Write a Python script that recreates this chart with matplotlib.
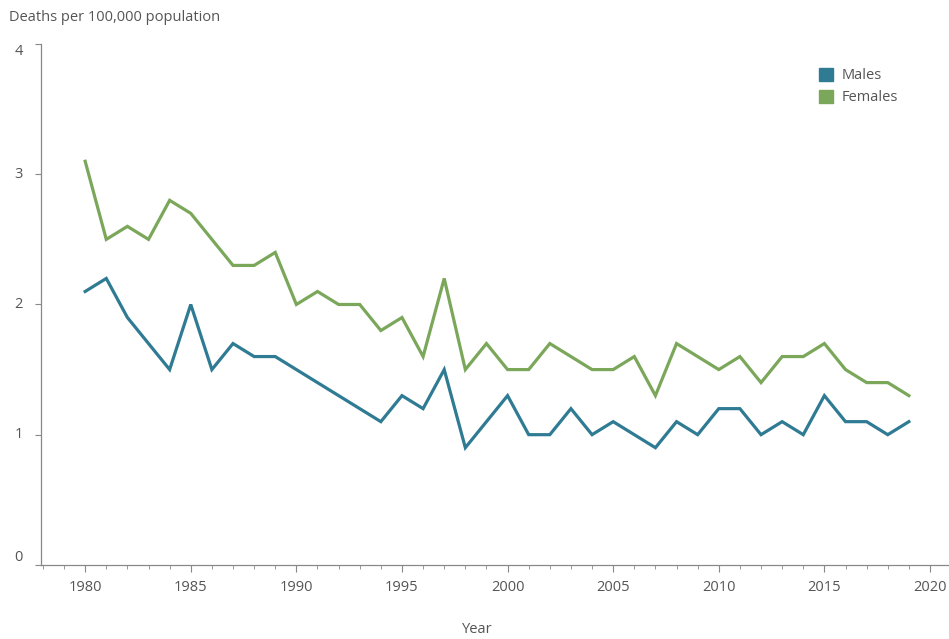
import matplotlib
matplotlib.use("Agg")
import matplotlib.pyplot as plt
from matplotlib.patches import Patch
from matplotlib.ticker import MultipleLocator

years = list(range(1980, 2020))
males = [2.1, 2.2, 1.9, 1.7, 1.5, 2.0, 1.5, 1.7, 1.6, 1.6,
         1.5, 1.4, 1.3, 1.2, 1.1, 1.3, 1.2, 1.5, 0.9, 1.1,
         1.3, 1.0, 1.0, 1.2, 1.0, 1.1, 1.0, 0.9, 1.1, 1.0,
         1.2, 1.2, 1.0, 1.1, 1.0, 1.3, 1.1, 1.1, 1.0, 1.1]
females = [3.1, 2.5, 2.6, 2.5, 2.8, 2.7, 2.5, 2.3, 2.3, 2.4,
           2.0, 2.1, 2.0, 2.0, 1.8, 1.9, 1.6, 2.2, 1.5, 1.7,
           1.5, 1.5, 1.7, 1.6, 1.5, 1.5, 1.6, 1.3, 1.7, 1.6,
           1.5, 1.6, 1.4, 1.6, 1.6, 1.7, 1.5, 1.4, 1.4, 1.3]
yticks = [0, 1, 2, 3, 4]

male_col = "#2f7b93"
female_col = "#7ba75b"
text_col = "#555555"
axis_col = "#888888"

plt.rcParams['font.family'] = ['Open Sans', 'DejaVu Sans']

fig = plt.figure(figsize=(9.49, 6.39), dpi=100)
ax = fig.add_axes([0.043, 0.116, 0.957, 0.815])

ax.plot(years, males, color=male_col, lw=2.3, solid_joinstyle='miter')
ax.plot(years, females, color=female_col, lw=2.3, solid_joinstyle='miter')

ax.set_xlim(1977.9, 2020.9)
ax.set_ylim(0, 4)
ax.xaxis.set_major_locator(MultipleLocator(5))
ax.xaxis.set_minor_locator(MultipleLocator(1))

for s in ['top', 'right']:
    ax.spines[s].set_visible(False)
for s in ['left', 'bottom']:
    ax.spines[s].set_color(axis_col)
    ax.spines[s].set_linewidth(0.9)

ax.tick_params(axis='x', which='major', length=5, color=axis_col, labelsize=10.5,
               labelcolor=text_col, pad=6)
ax.tick_params(axis='x', which='minor', length=3, color=axis_col)
ax.tick_params(axis='y', which='major', length=4, color=axis_col, labelsize=10.5,
               labelcolor=text_col, pad=9)
ax.set_yticks(yticks)
ylabels = ax.set_yticklabels([str(v) for v in yticks])
for i, lbl in enumerate(ylabels):
    if i == 0:
        lbl.set_va('bottom')
    elif i == len(ylabels) - 1:
        lbl.set_va('top')
    else:
        lbl.set_va('center')

fig.text(0.009, 0.972, "Deaths per 100,000 population", fontsize=10.5,
         color=text_col, ha='left', va='center')
fig.text(0.503, 0.003, "Year", fontsize=10.5, color=text_col, ha='center', va='bottom')

handles = [Patch(color=male_col, label="Males"), Patch(color=female_col, label="Females")]
leg = ax.legend(handles=handles, loc='upper left', bbox_to_anchor=(0.842, 0.98),
                frameon=False, fontsize=10.5, handlelength=1.0, handleheight=1.0,
                handletextpad=0.6, labelspacing=0.45)
for t in leg.get_texts():
    t.set_color(text_col)

fig.savefig("out.png", dpi=100)
